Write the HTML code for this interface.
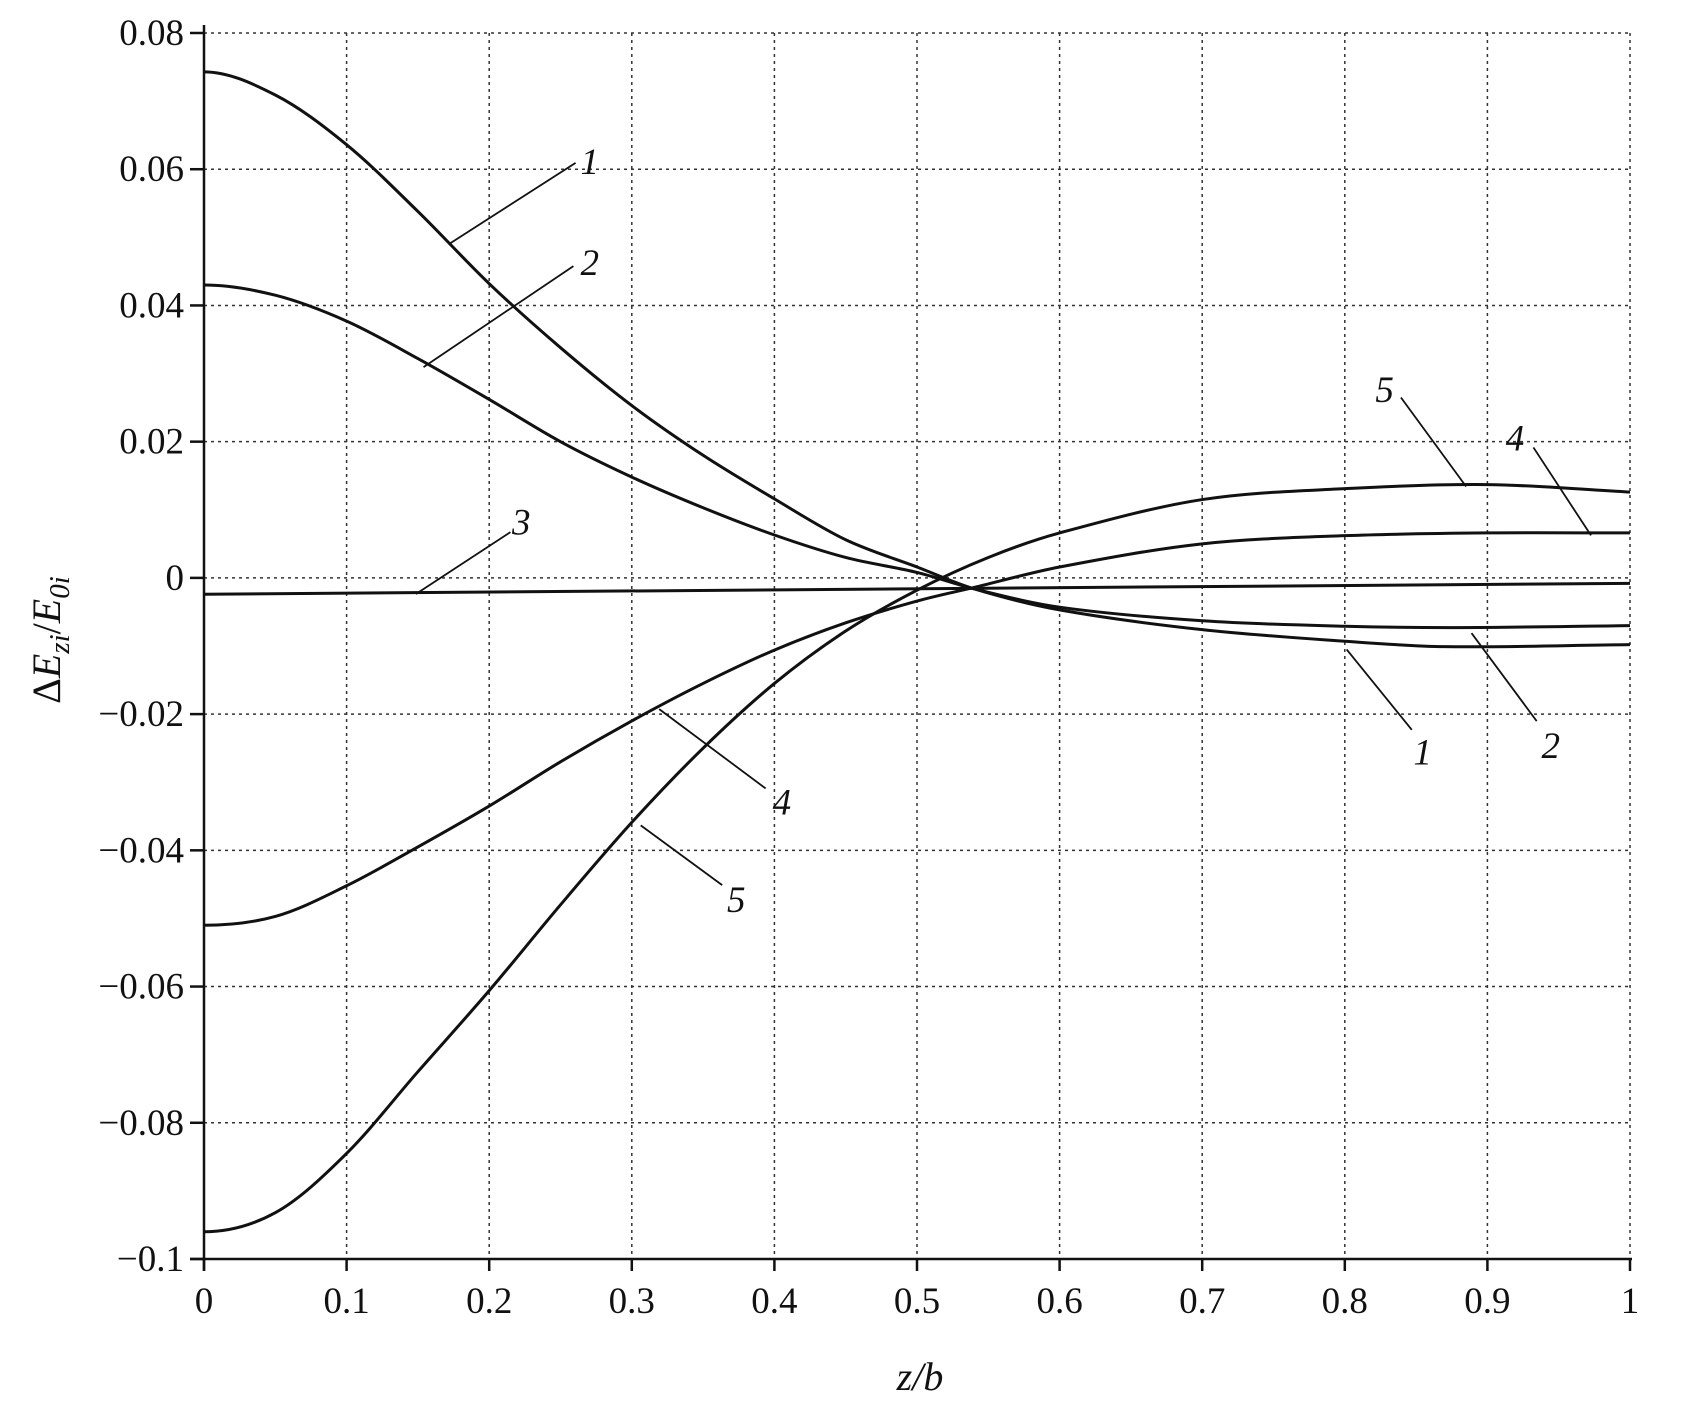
<!DOCTYPE html>
<html><head><meta charset="utf-8"><style>
html,body{margin:0;padding:0;background:#fff}
svg{display:block}
text{font-family:"Liberation Serif",serif;fill:#111}
</style></head><body>
<svg id="s" width="1694" height="1403" viewBox="0 0 1694 1403" xmlns="http://www.w3.org/2000/svg">
<g id="grid" stroke="#333" stroke-width="1.5" stroke-dasharray="3,4" fill="none"></g>
<g id="axes" stroke="#111" stroke-width="2.5" fill="none"></g>
<g id="ticks" font-size="37"></g>
<g id="curves" stroke="#111" stroke-width="3" fill="none"></g>
<g id="leaders" stroke="#111" stroke-width="1.8"></g>
<g id="labs" font-size="37" font-style="italic"></g>
<text x="920" y="1390" font-size="40" font-style="italic" text-anchor="middle">z/b</text>
<text transform="translate(60,640) rotate(-90)" font-size="40" text-anchor="middle">Δ<tspan font-style="italic">E</tspan><tspan font-size="29" dy="9" font-style="italic">zi</tspan><tspan dy="-9">/</tspan><tspan font-style="italic">E</tspan><tspan font-size="29" dy="9" font-style="italic">0i</tspan></text>
</svg>
<script>
var X0=204,X1=1630,Y8=33,Ym=1259;
function px(z){return X0+(X1-X0)*z}
function py(v){return Y8+(0.08-v)/0.18*(Ym-Y8)}
var ns="http://www.w3.org/2000/svg";
function el(p,t,a,txt){var e=document.createElementNS(ns,t);for(var k in a)e.setAttribute(k,a[k]);if(txt!=null)e.textContent=txt;document.getElementById(p).appendChild(e);return e}
for(var i=1;i<=10;i++){el('grid','line',{x1:px(i/10),x2:px(i/10),y1:Y8,y2:Ym});}
for(var j=0;j<9;j++){var v=0.08-0.02*j;el('grid','line',{x1:X0,x2:X1,y1:py(v),y2:py(v)});}
el('axes','line',{x1:X0,x2:X0,y1:Y8-8,y2:Ym+12});
el('axes','line',{x1:X0-14,x2:X1+2,y1:Ym,y2:Ym});
for(var i=0;i<=10;i++){el('axes','line',{x1:px(i/10),x2:px(i/10),y1:Ym,y2:Ym+12});
 el('ticks','text',{x:px(i/10),y:Ym+54,'text-anchor':'middle'},i==0?'0':i==10?'1':'0.'+i);}
var yl=['0.08','0.06','0.04','0.02','0','\u22120.02','\u22120.04','\u22120.06','\u22120.08','\u22120.1'];
for(var j=0;j<10;j++){var v=0.08-0.02*j;el('axes','line',{x1:X0-14,x2:X0,y1:py(v),y2:py(v)});
 el('ticks','text',{x:X0-20,y:py(v)+12,'text-anchor':'end'},yl[j]);}
var C=[
[[0,.0743],[.05,.0709],[.1,.0636],[.15,.0538],[.2,.0432],[.25,.0338],[.3,.0253],[.35,.0180],[.4,.0116],[.45,.0056],[.5,.0016],[.54,-.0016],[.6,-.0047],[.7,-.0076],[.8,-.0093],[.87,-.0101],[1,-.0098]],
[[0,.043],[.05,.0415],[.1,.0377],[.15,.0322],[.2,.0262],[.25,.0200],[.3,.0148],[.35,.0103],[.4,.0063],[.45,.0030],[.5,.0008],[.54,-.0016],[.6,-.0043],[.7,-.0063],[.8,-.0071],[.88,-.0073],[1,-.0070]],
[[0,-.0024],[1,-.0008]],
[[0,-.051],[.05,-.0497],[.1,-.0452],[.15,-.0395],[.2,-.0335],[.25,-.0270],[.3,-.0210],[.35,-.0155],[.4,-.0106],[.45,-.0066],[.5,-.0034],[.54,-.0014],[.6,.0016],[.7,.0050],[.8,.0062],[.9,.0066],[1,.0066]],
[[0,-.096],[.05,-.0932],[.1,-.0845],[.15,-.0725],[.2,-.0606],[.25,-.0480],[.3,-.0359],[.35,-.0250],[.4,-.0155],[.45,-.0078],[.5,-.0018],[.55,.0030],[.6,.0066],[.7,.0115],[.8,.0131],[.9,.0137],[1,.0126]]];
C.forEach(function(d,ci){
 var n=d.length,m=[];
 for(var i=0;i<n;i++){
  if(i==0) m[i]=(ci==2)?(d[1][1]-d[0][1])/(d[1][0]-d[0][0]):0;
  else if(i==n-1) m[i]=(d[i][1]-d[i-1][1])/(d[i][0]-d[i-1][0]);
  else m[i]=(d[i+1][1]-d[i-1][1])/(d[i+1][0]-d[i-1][0]);
 }
 var s='M'+px(d[0][0])+' '+py(d[0][1]);
 for(var i=0;i<n-1;i++){var h=d[i+1][0]-d[i][0];
  var x1=d[i][0]+h/3,y1=d[i][1]+m[i]*h/3,x2=d[i+1][0]-h/3,y2=d[i+1][1]-m[i+1]*h/3;
  s+=' C'+px(x1)+' '+py(y1)+' '+px(x2)+' '+py(y2)+' '+px(d[i+1][0])+' '+py(d[i+1][1]);}
 el('curves','path',{d:s});});
var k=1.086;
var L=[[413,225,530,150],[390,338,528,245],[383,547,470,490],[1290,366,1350,448],[1412,412,1465,493],[1240,598,1300,672],[1355,583,1415,664],[607,653,705,726],[590,760,665,815]];
L.forEach(function(l){el('leaders','line',{x1:l[0]*k,y1:l[1]*k,x2:l[2]*k,y2:l[3]*k})});
var T=[['1',543,160],['2',543,253],['3',480,492],['5',1275,370],['4',1395,415],['1',1310,704],['2',1428,698],['4',720,750],['5',678,840]];
T.forEach(function(t){el('labs','text',{x:t[1]*k,y:t[2]*k,'text-anchor':'middle'},t[0])});
</script>
</body></html>
